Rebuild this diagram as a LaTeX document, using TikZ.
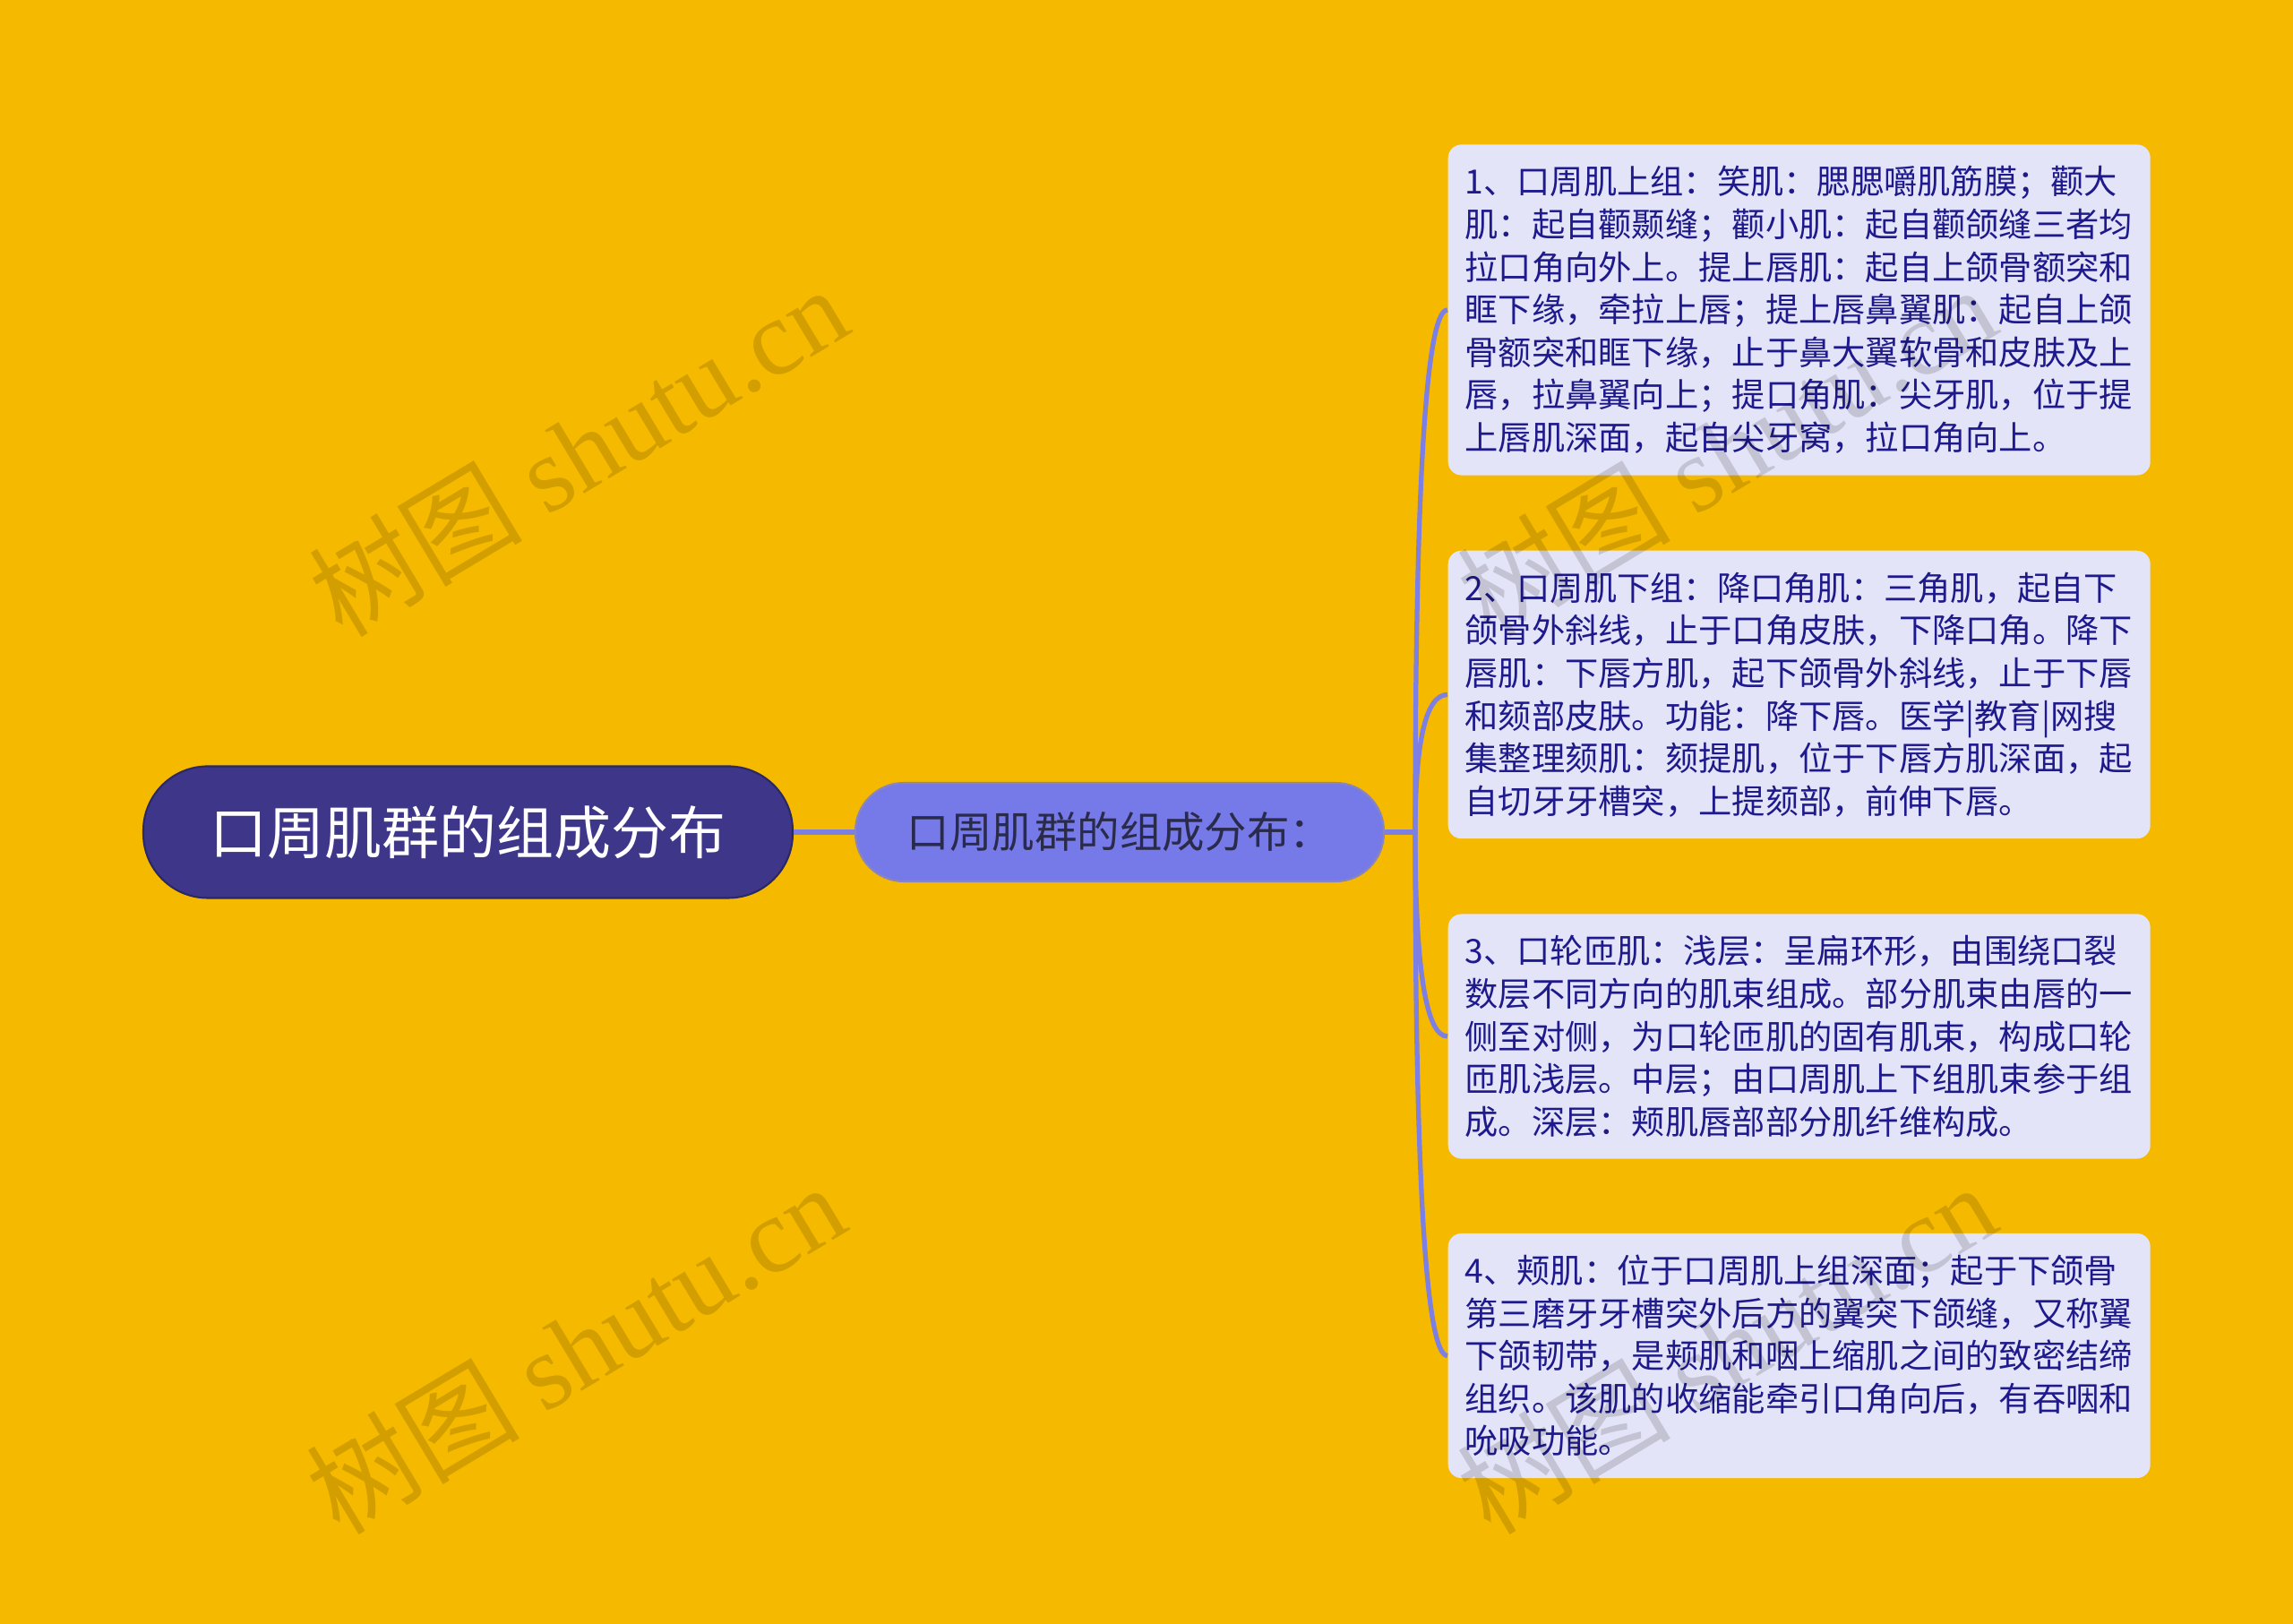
\documentclass[tikz,border=0pt]{standalone}
\usepackage{fontspec}
\setmainfont{Noto Sans CJK SC}
\newfontfamily\wmlatin{Liberation Serif}
\usetikzlibrary{calc}

\definecolor{bgyellow}{HTML}{F5B900}
\definecolor{rootfill}{HTML}{3D3689}
\definecolor{rootline}{HTML}{2C2862}
\definecolor{midfill}{HTML}{767AE8}
\definecolor{midline}{HTML}{8C86B8}
\definecolor{midtext}{HTML}{2A2A4A}
\definecolor{leaffill}{HTML}{E4E4F8}
\definecolor{leaftext}{HTML}{1E1A8C}
\definecolor{linkcol}{HTML}{7D80E0}

\begin{document}
\begin{tikzpicture}[
	rootbox/.style={draw=rootline, line width=0.6pt, fill=rootfill, text=white, rounded corners=0.72cm,
		minimum width=7.25cm, minimum height=1.47cm, inner sep=0pt, font=\fontsize{18.2pt}{22pt}\selectfont},
	midbox/.style={draw=midline, line width=0.6pt, fill=midfill, text=midtext, rounded corners=0.54cm,
		minimum width=5.90cm, minimum height=1.10cm, inner sep=0pt, font=\fontsize{13.5pt}{16pt}\selectfont},
	leafbox/.style={fill=leaffill, text=leaftext, rounded corners=0.15cm, anchor=west, align=left,
		text width=7.46cm, inner xsep=0.19cm, inner ysep=0.24cm, font=\fontsize{10.6pt}{13.55pt}\selectfont},
	link/.style={draw=linkcol, line width=1.5pt},
	watermark/.style={rotate=31, text=black, text opacity=0.14, font=\fontsize{34pt}{40pt}\selectfont}
]
	%background
	\fill[bgyellow] (0,0) rectangle (25.6,18.13);
	\useasboundingbox (0,0) rectangle (25.6,18.13);
	
	%topics
	\node[rootbox] (root) at (5.225,8.84) {口周肌群的组成分布};
	\node[midbox] (mid) at (12.50,8.84) {口周肌群的组成分布：};
	\coordinate (fork) at (15.80,8.84);
	
	%details
	\node[leafbox] (l1) at (16.16,14.67) {1、口周肌上组：笑肌：腮腮嚼肌筋膜；颧大\\
		肌：起自颧颞缝；颧小肌：起自颧颌缝三者均\\
		拉口角向外上。提上唇肌：起自上颌骨额突和\\
		眶下缘，牵拉上唇；提上唇鼻翼肌：起自上颌\\
		骨额突和眶下缘，止于鼻大翼软骨和皮肤及上\\
		唇，拉鼻翼向上；提口角肌：尖牙肌，位于提\\
		上唇肌深面，起自尖牙窝，拉口角向上。};
	\node[leafbox] (l2) at (16.16,10.375) {2、口周肌下组：降口角肌：三角肌，起自下\\
		颌骨外斜线，止于口角皮肤，下降口角。降下\\
		唇肌：下唇方肌，起下颌骨外斜线，止于下唇\\
		和颏部皮肤。功能：降下唇。医学|教育|网搜\\
		集整理颏肌：颏提肌，位于下唇方肌深面，起\\
		自切牙牙槽突，上提颏部，前伸下唇。};
	\node[leafbox] (l3) at (16.16,6.56) {3、口轮匝肌：浅层：呈扁环形，由围绕口裂\\
		数层不同方向的肌束组成。部分肌束由唇的一\\
		侧至对侧，为口轮匝肌的固有肌束，构成口轮\\
		匝肌浅层。中层；由口周肌上下组肌束参于组\\
		成。深层：颊肌唇部部分肌纤维构成。};
	\node[leafbox] (l4) at (16.16,2.995) {4、颊肌：位于口周肌上组深面；起于下颌骨\\
		第三磨牙牙槽突外后方的翼突下颌缝，又称翼\\
		下颌韧带，是颊肌和咽上缩肌之间的致密结缔\\
		组织。该肌的收缩能牵引口角向后，有吞咽和\\
		吮吸功能。};
	
	%links
	\draw[link] (root.east) -- (mid.west);
	\draw[link] (mid.east) -- (fork);
	\foreach \leaf in {l1,l2,l3,l4}
		\draw[link] (fork) .. controls ($(fork)!2/3!(fork |- \leaf.west)$) and ($(\leaf.west)!2/3!(fork |- \leaf.west)$) .. (\leaf.west);
	
	%watermarks
	\foreach \wx/\wy [count=\wi] in {6.45/13.10, 6.42/3.08, 19.27/13.10, 19.27/3.08}
		\node[watermark] (wm\wi) at (\wx,\wy) {树图 {\wmlatin shutu.cn}};
\end{tikzpicture}
\end{document}
